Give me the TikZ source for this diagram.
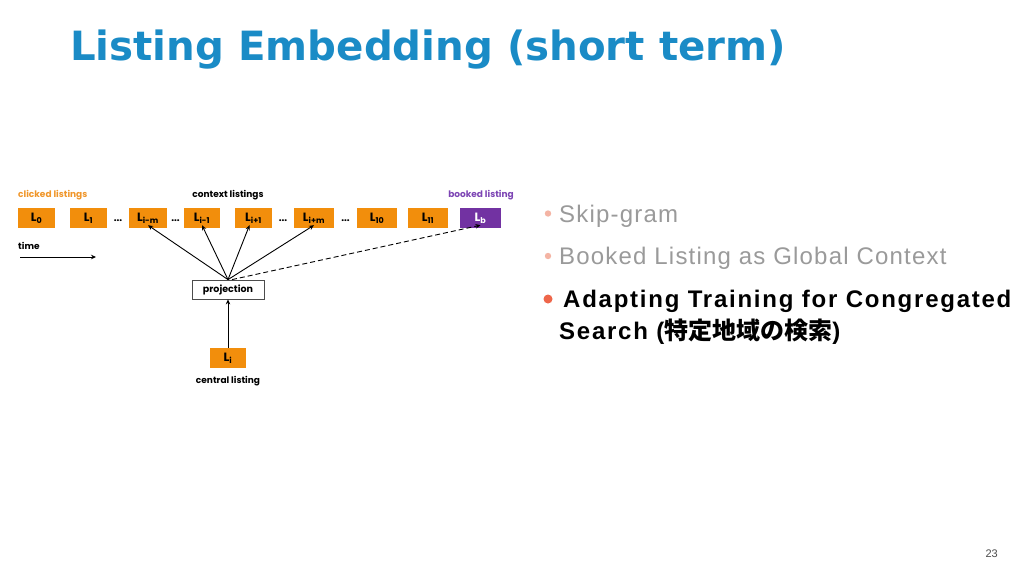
\documentclass[tikz,border=0pt]{standalone}
\usepackage{fontspec}
\setmainfont{Liberation Sans}
\newfontfamily\titlefont{DejaVu Sans Bold}
\newfontfamily\bodyfont[LetterSpace=5]{Liberation Sans}
\newfontfamily\boldbody[LetterSpace=7.3]{Liberation Sans Bold}
\newfontfamily\gothic{Poppins}
\newfontfamily\cjk{Noto Sans CJK JP}
\usetikzlibrary{arrows.meta,calc}
\definecolor{titleblue}{HTML}{1A8BC6}
\definecolor{boxorange}{HTML}{F28E0C}
\definecolor{boxpurple}{HTML}{7232A2}
\definecolor{labpurple}{HTML}{7C44B4}
\definecolor{laborange}{HTML}{F0962A}
\definecolor{fadegray}{HTML}{9A9A9A}
\definecolor{fadebullet}{HTML}{F4B4A4}
\definecolor{hotbullet}{HTML}{EE664A}
\begin{document}
\begin{tikzpicture}[x=1pt,y=-1pt,
  lbox/.style={fill=boxorange, minimum height=20, inner sep=0pt,
    font=\gothic\bfseries\fontsize{12}{12}\selectfont},
  sublab/.style={font=\gothic\bfseries\fontsize{9}{9}\selectfont, inner sep=0pt},
  dotsl/.style={font=\gothic\bfseries\fontsize{10}{10}\selectfont, inner sep=0pt},
  arr/.style={line width=0.9pt, -{Stealth[length=5pt,width=4.5pt]}},
  bullettext/.style={anchor=base west, inner sep=0pt, font=\bodyfont\fontsize{24}{24}\selectfont}
]
\useasboundingbox (0,0) rectangle (1024,576);
\fill[white] (0,0) rectangle (1024,576);

% title
\node[anchor=base west, inner sep=0pt, text=titleblue,
      font=\titlefont\fontsize{40.3}{41}\selectfont] (title) at (70,60) {Listing Embedding (short term)};

% labels
\node[sublab, anchor=west, text=laborange] (clk) at (18,195) {clicked listings};
\node[sublab, anchor=center] (ctx) at (228,195) {context listings};
\node[sublab, anchor=east, text=labpurple] (bkd) at (514,195) {booked listing};

% boxes
\node[lbox, minimum width=37] (l0) at (36.5,218) {L\textsubscript{0}};
\node[lbox, minimum width=37] (l1) at (88.5,218) {L\textsubscript{1}};
\node[lbox, minimum width=38] (lim) at (148,218) {L\textsubscript{i-m}};
\node[lbox, minimum width=36] (lim1) at (202,218) {L\textsubscript{i-1}};
\node[lbox, minimum width=37] (lip1) at (253.5,218) {L\textsubscript{i+1}};
\node[lbox, minimum width=40] (lip) at (314,218) {L\textsubscript{i+m}};
\node[lbox, minimum width=40] (l10) at (377,218) {L\textsubscript{10}};
\node[lbox, minimum width=40] (l11) at (428,218) {L\textsubscript{11}};
\node[lbox, minimum width=41, fill=boxpurple, text=white] (lb) at (480.5,218) {L\textsubscript{b}};

\node[dotsl] (d1) at (118,221) {...};
\node[dotsl] (d2) at (175.5,221) {...};
\node[dotsl] (d3) at (283,221) {...};
\node[dotsl] (d4) at (345.5,221) {...};

% time
\node[sublab, anchor=west] (time) at (18,246) {time};
\coordinate (t0) at (20,257);
\coordinate (t1) at (96,257);
\draw[arr, line width=0.8pt] (t0) -- (t1);

% projection and central
\node[draw=black!70, line width=0.8pt, minimum width=72, minimum height=19, inner sep=0pt,
      font=\gothic\bfseries\fontsize{9.5}{10}\selectfont] (proj) at (228,289.5) {projection};
\node[lbox, minimum width=36] (li) at (228,358) {L\textsubscript{i}};
\node[sublab, anchor=center] (cen) at (228,381) {central listing};

\draw[arr] (li.north) -- (proj.south);
\draw[arr] (proj.north) -- ([yshift=3pt]lim.south);
\draw[arr] (proj.north) -- ([yshift=3pt]lim1.south);
\draw[arr] (proj.north) -- ([xshift=-4pt,yshift=3pt]lip1.south);
\draw[arr] (proj.north) -- ([yshift=3pt]lip.south);
\draw[arr, dash pattern=on 5pt off 3pt] ([xshift=4pt]proj.north) -- ([yshift=3pt]lb.south);

% bullets
\fill[fadebullet] (548,213.5) circle (3.2);
\node[bullettext, text=fadegray] (b1) at (559,222) {Skip-gram};
\fill[fadebullet] (548,256) circle (3.2);
\node[bullettext, text=fadegray] (b2) at (559,264) {Booked Listing as Global Context};
\fill[hotbullet] (548,299) circle (4.5);
\node[bullettext, font=\boldbody\fontsize{24}{24}\selectfont] (b3) at (563,307) {Adapting Training for Congregated};
\node[bullettext, font=\boldbody\fontsize{24}{24}\selectfont] (b4) at (559,339) {Search ({\cjk\bfseries 特定地域の検索})};

\node[anchor=base east, inner sep=0pt, text=black!70, font=\fontsize{11}{11}\selectfont] (pg) at (998,557) {23};
\end{tikzpicture}
\end{document}
